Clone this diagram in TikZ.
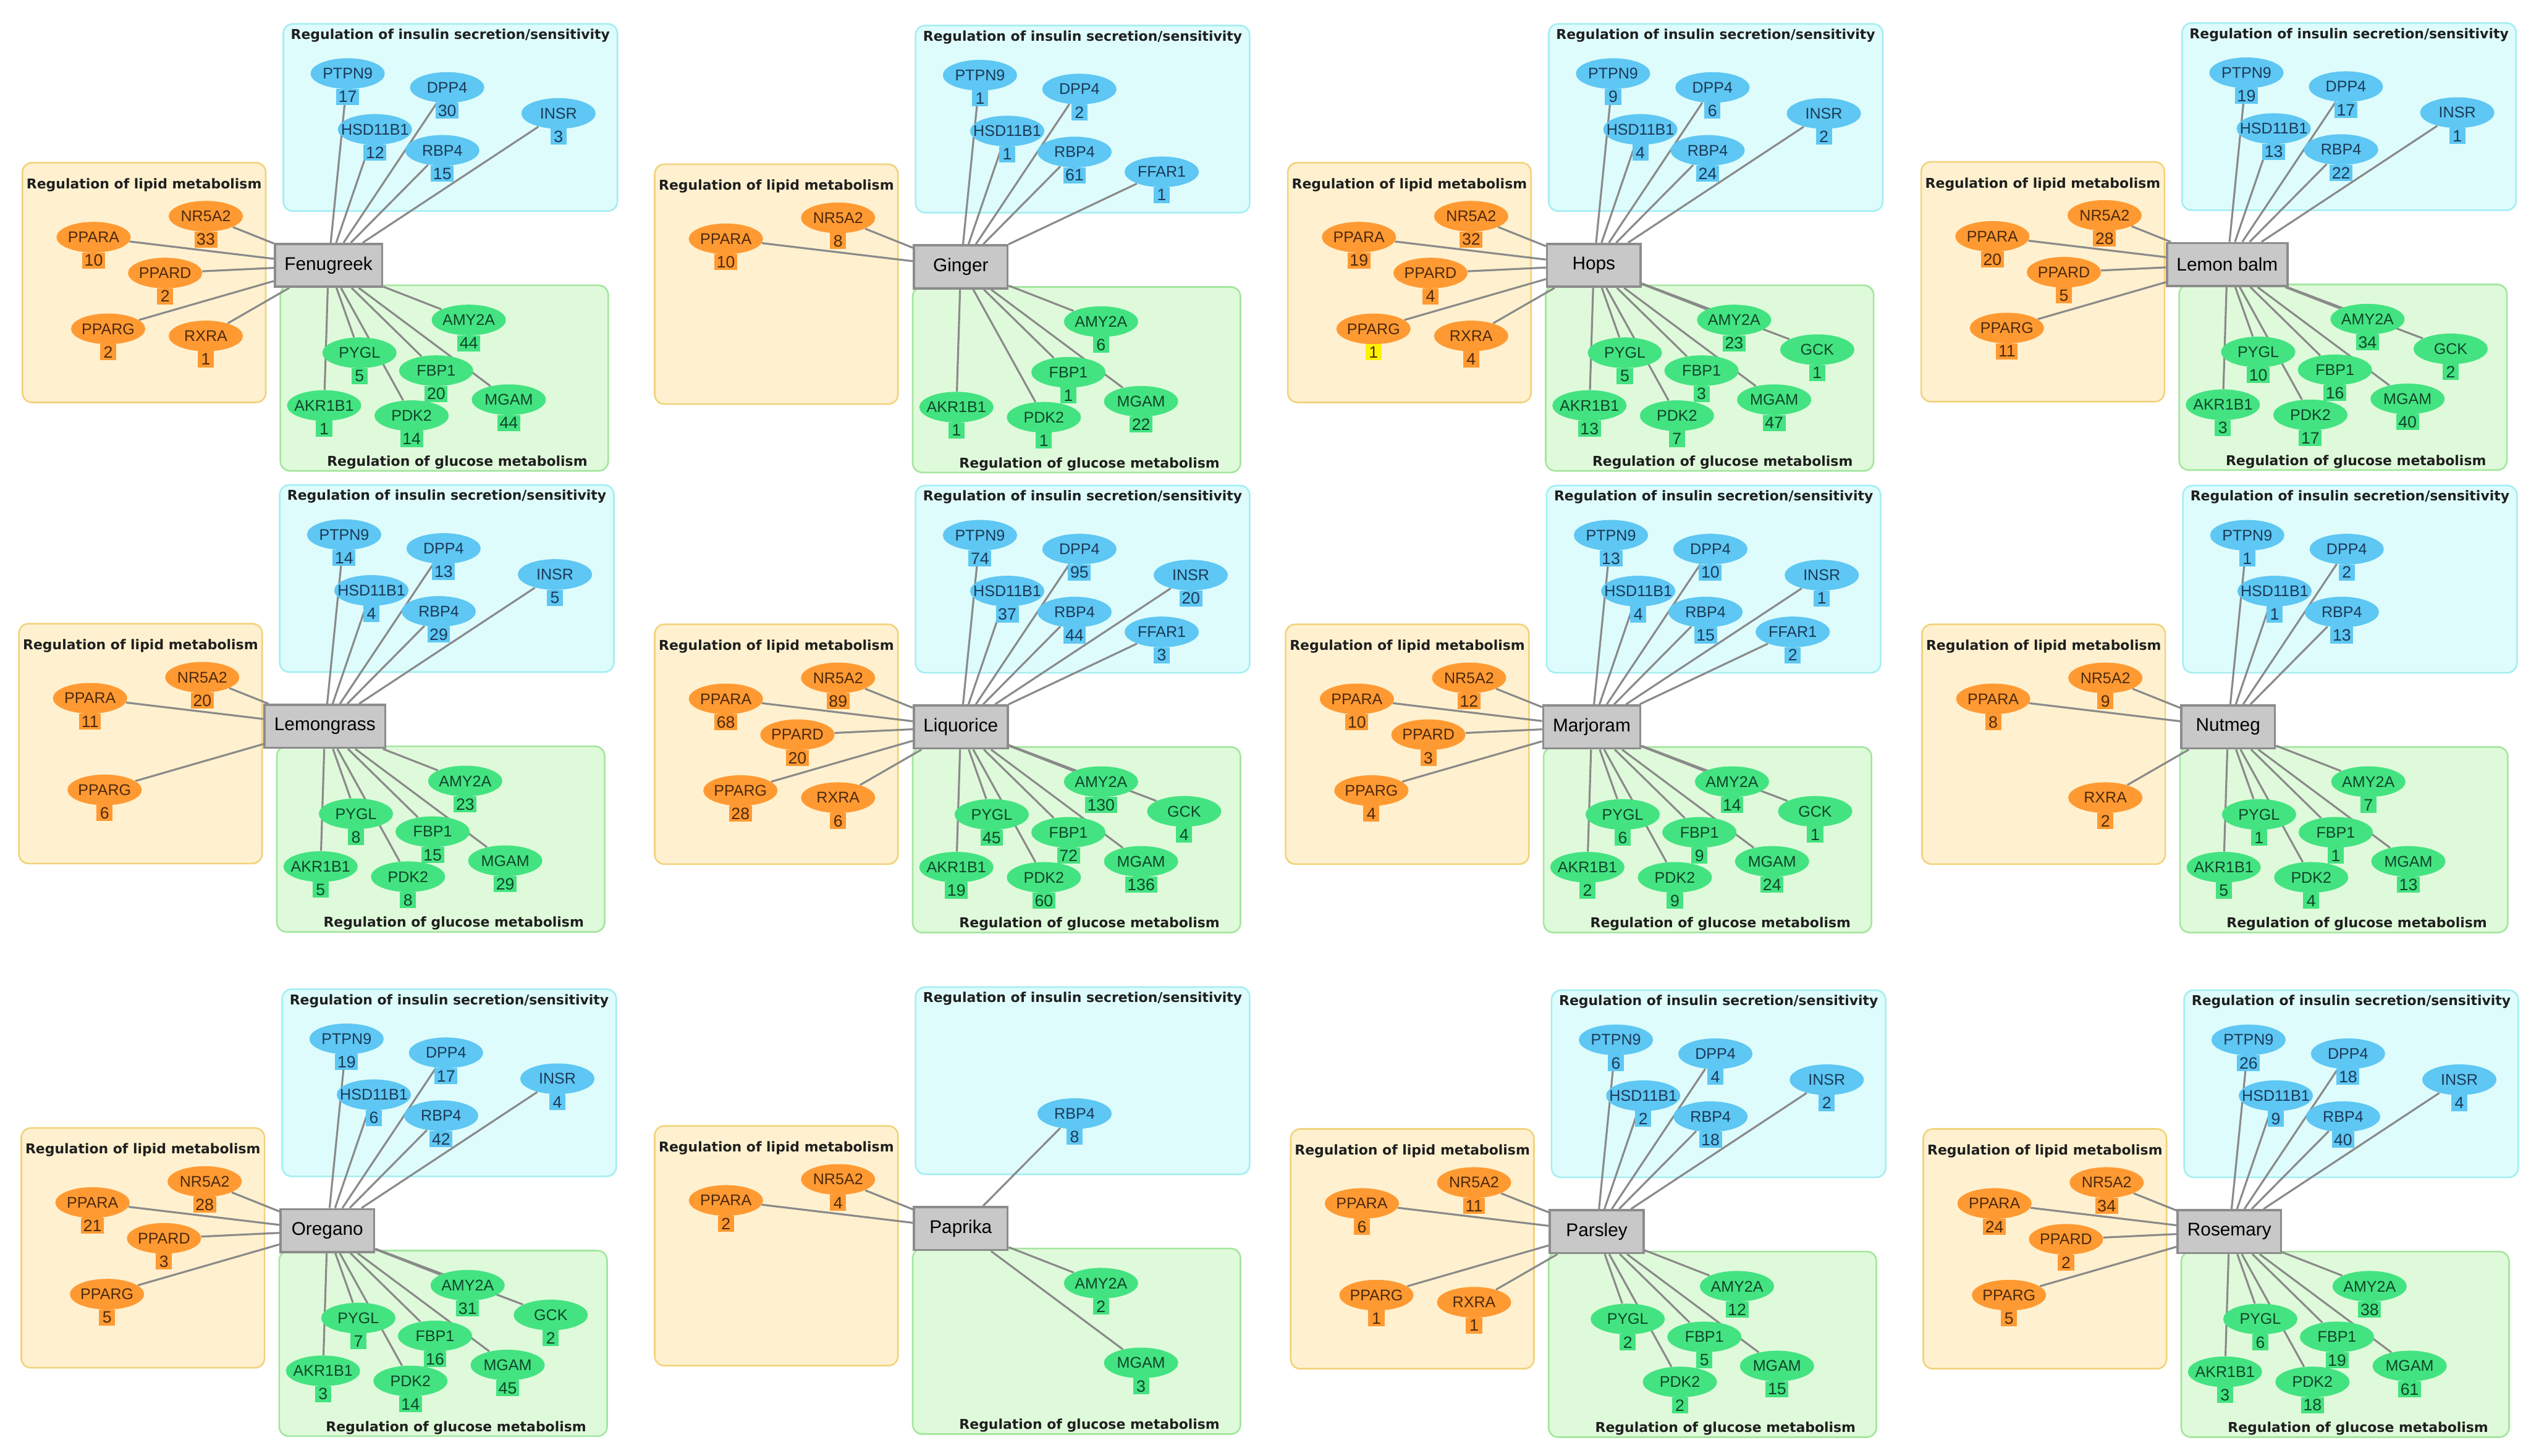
\documentclass[tikz,border=0pt]{standalone}
\usepackage{fontspec}
\setmainfont{Liberation Sans}
\newfontfamily\titlefont{DejaVu Sans}
\usepackage{xcolor}
\usepackage{tikz}
\usetikzlibrary{
    positioning,
    shapes.geometric
}

\definecolor{lipfill}{HTML}{FFF1CF}
\definecolor{lipedge}{HTML}{F2D27C}
\definecolor{insfill}{HTML}{DEFCFC}
\definecolor{insedge}{HTML}{A4EEF2}
\definecolor{glufill}{HTML}{DFFADA}
\definecolor{gluedge}{HTML}{A3E69E}
\definecolor{lipnode}{HTML}{FF9A33}
\definecolor{insnode}{HTML}{5EC7F3}
\definecolor{glunode}{HTML}{44E381}
\definecolor{liptext}{HTML}{4F2A0C}
\definecolor{instext}{HTML}{1C3A58}
\definecolor{glutext}{HTML}{10462A}
\definecolor{hubgray}{HTML}{C8C8C8}
\definecolor{hubedge}{HTML}{8C8C8C}
\definecolor{linkgray}{HTML}{8A8A8A}
\definecolor{markyellow}{HTML}{FFF200}

\pgfdeclarelayer{boxes}
\pgfdeclarelayer{links}
\pgfsetlayers{boxes,links,main}

% gene positions, relative to the herb box
\newcommand{\setgene}[3]{%
    \expandafter\def\csname gx-#1\endcsname{#2}%
    \expandafter\def\csname gy-#1\endcsname{#3}}
\setgene{PTPN9}{11.9}{-118.8}
\setgene{DPP4}{73.5}{-110.2}
\setgene{HSD11B1}{28.8}{-84.2}
\setgene{RBP4}{70.5}{-71.2}
\setgene{INSR}{142.5}{-94.1}
\setgene{FFAR1}{124.5}{-58.9}
\setgene{NR5A2}{-76}{-30.4}
\setgene{PPARA}{-145.5}{-17.4}
\setgene{PPARD}{-101.2}{4.8}
\setgene{PPARG}{-136.5}{39.4}
\setgene{RXRA}{-76}{43.8}
\setgene{AMY2A}{86.9}{33.9}
\setgene{GCK}{138.4}{52.3}
\setgene{PYGL}{19.2}{54.2}
\setgene{FBP1}{66.7}{65.3}
\setgene{MGAM}{111.7}{83.3}
\setgene{AKR1B1}{-2.7}{86.9}
\setgene{PDK2}{51.5}{93.2}

% one target: ellipse, count badge and link to the herb
\newcommand{\genenode}[4]{%
    \node[#4 gene] (#1-#2)
        at (\csname gx-#2\endcsname,\csname gy-#2\endcsname) {\makebox[0pt]{#2}};
    \node[#4 badge, below=-0.5pt of #1-#2] (#1-#2-n) {#3};
    \begin{pgfonlayer}{links}
        \draw[link] (#1) -- (#1-#2);
    \end{pgfonlayer}}

% one herb panel
\newcommand{\herbpanel}[6]{%
    \begin{scope}[shift={#2}]
        \begin{pgfonlayer}{boxes}
            \node[insbox] (#1-ins) at (75.5,-91.6) {};
            \node[lipbox] (#1-lip) at (-114.25,10.7) {};
            \node[glubox] (#1-glu) at (71.75,69.9) {};
        \end{pgfonlayer}
        \node[boxtitle, below=3.4pt of #1-ins.north] (#1-ins-t)
            {Regulation of insulin secretion/sensitivity};
        \node[boxtitle, below=10pt of #1-lip.north] (#1-lip-t)
            {Regulation of lipid metabolism};
        \node[boxtitle, above=1.5pt of #1-glu.south, xshift=8pt] (#1-glu-t)
            {Regulation of glucose metabolism};
        \node[herb] (#1) at (0,0) {#3};
        \foreach \g/\n in {#4} {\genenode{#1}{\g}{\n}{ins}}
        \foreach \g/\n in {#5} {\genenode{#1}{\g}{\n}{lip}}
        \foreach \g/\n in {#6} {\genenode{#1}{\g}{\n}{glu}}
    \end{scope}}

\begin{document}
\begin{tikzpicture}[
    x=1pt,
    y=-1pt,
    herb/.style={
        rectangle,
        fill=hubgray,
        draw=hubedge,
        line width=1.4pt,
        minimum width=58pt,
        minimum height=26.6pt,
        inner xsep=6pt,
        font=\fontsize{11.4}{13}\selectfont
    },
    genebase/.style={
        ellipse,
        minimum width=46pt,
        minimum height=19pt,
        inner sep=0pt,
        font=\fontsize{9.6}{11}\selectfont
    },
    badgebase/.style={
        rectangle,
        inner xsep=1.4pt,
        inner ysep=1.2pt,
        minimum width=10pt,
        minimum height=10pt,
        font=\fontsize{10.2}{12}\selectfont
    },
    ins gene/.style={genebase, fill=insnode, text=instext},
    lip gene/.style={genebase, fill=lipnode, text=liptext},
    glu gene/.style={genebase, fill=glunode, text=glutext},
    ins badge/.style={badgebase, fill=insnode, text=instext},
    lip badge/.style={badgebase, fill=lipnode, text=liptext},
    glu badge/.style={badgebase, fill=glunode, text=glutext},
    boxbase/.style={
        rectangle,
        rounded corners=6pt,
        line width=1pt
    },
    insbox/.style={boxbase, fill=insfill, draw=insedge,
        minimum width=207pt, minimum height=116pt},
    lipbox/.style={boxbase, fill=lipfill, draw=lipedge,
        minimum width=150.7pt, minimum height=148.6pt},
    glubox/.style={boxbase, fill=glufill, draw=gluedge,
        minimum width=203.1pt, minimum height=115pt},
    boxtitle/.style={
        inner sep=0pt,
        text=black!88,
        font=\titlefont\bfseries\fontsize{8.4}{10}\selectfont
    },
    link/.style={
        draw=linkgray,
        line width=1.2pt
    }
]

\useasboundingbox (0,0) rectangle (1568,902);
\begin{pgfonlayer}{boxes}
    \fill[white] (0,0) rectangle (1568,902);
\end{pgfonlayer}

% ============================================================
% ROW 1
% ============================================================

\herbpanel{fen}{(203.5,164.4)}{Fenugreek}
    {PTPN9/17, DPP4/30, HSD11B1/12, RBP4/15, INSR/3}
    {NR5A2/33, PPARA/10, PPARD/2, PPARG/2, RXRA/1}
    {AMY2A/44, PYGL/5, FBP1/20, MGAM/44, AKR1B1/1, PDK2/14}

\herbpanel{gin}{(595.2,165.4)}{Ginger}
    {PTPN9/1, DPP4/2, HSD11B1/1, RBP4/61, FFAR1/1}
    {NR5A2/8, PPARA/10}
    {AMY2A/6, FBP1/1, MGAM/22, AKR1B1/1, PDK2/1}

\herbpanel{hop}{(987.4,164.4)}{Hops}
    {PTPN9/9, DPP4/6, HSD11B1/4, RBP4/24, INSR/2}
    {NR5A2/32, PPARA/19, PPARD/4, PPARG/1, RXRA/4}
    {AMY2A/23, GCK/1, PYGL/5, FBP1/3, MGAM/47, AKR1B1/13, PDK2/7}
\node[lip badge, fill=markyellow] (hop-PPARG-mark) at (hop-PPARG-n) {1};

\herbpanel{lem}{(1379.8,163.9)}{Lemon balm}
    {PTPN9/19, DPP4/17, HSD11B1/13, RBP4/22, INSR/1}
    {NR5A2/28, PPARA/20, PPARD/5, PPARG/11}
    {AMY2A/34, GCK/2, PYGL/10, FBP1/16, MGAM/40, AKR1B1/3, PDK2/17}

% ============================================================
% ROW 2
% ============================================================

\herbpanel{lgr}{(201.3,450.1)}{Lemongrass}
    {PTPN9/14, DPP4/13, HSD11B1/4, RBP4/29, INSR/5}
    {NR5A2/20, PPARA/11, PPARG/6}
    {AMY2A/23, PYGL/8, FBP1/15, MGAM/29, AKR1B1/5, PDK2/8}

\herbpanel{liq}{(595.2,450.5)}{Liquorice}
    {PTPN9/74, DPP4/95, HSD11B1/37, RBP4/44, INSR/20, FFAR1/3}
    {NR5A2/89, PPARA/68, PPARD/20, PPARG/28, RXRA/6}
    {AMY2A/130, GCK/4, PYGL/45, FBP1/72, MGAM/136, AKR1B1/19, PDK2/60}

\herbpanel{mar}{(986.1,450.5)}{Marjoram}
    {PTPN9/13, DPP4/10, HSD11B1/4, RBP4/15, INSR/1, FFAR1/2}
    {NR5A2/12, PPARA/10, PPARD/3, PPARG/4}
    {AMY2A/14, GCK/1, PYGL/6, FBP1/9, MGAM/24, AKR1B1/2, PDK2/9}

\herbpanel{nut}{(1380.3,450.5)}{Nutmeg}
    {PTPN9/1, DPP4/2, HSD11B1/1, RBP4/13}
    {NR5A2/9, PPARA/8, RXRA/2}
    {AMY2A/7, PYGL/1, FBP1/1, MGAM/13, AKR1B1/5, PDK2/4}

% ============================================================
% ROW 3
% ============================================================

\herbpanel{ore}{(202.8,762.6)}{Oregano}
    {PTPN9/19, DPP4/17, HSD11B1/6, RBP4/42, INSR/4}
    {NR5A2/28, PPARA/21, PPARD/3, PPARG/5}
    {AMY2A/31, GCK/2, PYGL/7, FBP1/16, MGAM/45, AKR1B1/3, PDK2/14}

\herbpanel{pap}{(595.2,761.3)}{Paprika}
    {RBP4/8}
    {NR5A2/4, PPARA/2}
    {AMY2A/2, MGAM/3}

\herbpanel{par}{(989.2,763.2)}{Parsley}
    {PTPN9/6, DPP4/4, HSD11B1/2, RBP4/18, INSR/2}
    {NR5A2/11, PPARA/6, PPARG/1, RXRA/1}
    {AMY2A/12, PYGL/2, FBP1/5, MGAM/15, PDK2/2}

\herbpanel{ros}{(1381.1,763.2)}{Rosemary}
    {PTPN9/26, DPP4/18, HSD11B1/9, RBP4/40, INSR/4}
    {NR5A2/34, PPARA/24, PPARD/2, PPARG/5}
    {AMY2A/38, PYGL/6, FBP1/19, MGAM/61, AKR1B1/3, PDK2/18}

\end{tikzpicture}
\end{document}
